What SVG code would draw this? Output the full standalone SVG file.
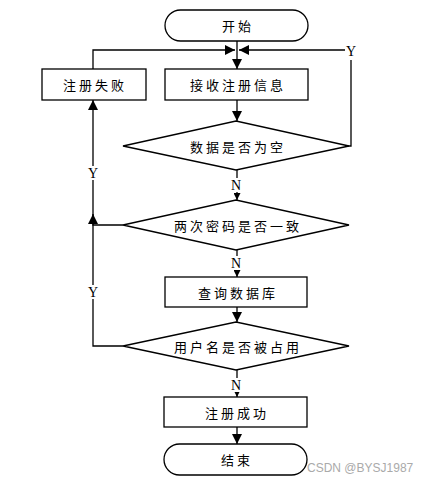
<svg xmlns="http://www.w3.org/2000/svg" width="436" height="483" viewBox="0 0 436 483">
<defs>
<marker id="ah" viewBox="0 0 10 10" refX="10" refY="5" markerWidth="10" markerHeight="10" markerUnits="userSpaceOnUse" orient="auto"><path d="M0,0 L10,5 L0,10 z" fill="#000"/></marker>
<marker id="as" viewBox="0 0 10 10" refX="10" refY="5" markerWidth="7" markerHeight="7" markerUnits="userSpaceOnUse" orient="auto"><path d="M0,0 L10,5 L0,10 z" fill="#000"/></marker>
</defs>
<style>
.s{fill:#fff;stroke:#000;stroke-width:1.3}
.t{font-family:"Noto Sans CJK SC","Liberation Sans",sans-serif;font-size:13px;letter-spacing:3px;text-anchor:middle;dominant-baseline:central;fill:#000}
.l{font-family:"Liberation Serif",serif;font-size:14px;text-anchor:middle;dominant-baseline:central;fill:#000}
.c{fill:none;stroke:#000;stroke-width:1.3}
</style>
<rect width="436" height="483" fill="#fff"/>
<g id="connectors">
<path class="c" d="M237,41 V69" marker-end="url(#ah)"/>
<path class="c" d="M93,69 V50 H235" marker-end="url(#ah)"/>
<path class="c" d="M348,146 H351 V50 H239" marker-end="url(#ah)"/>
<path class="c" d="M237,100 V121" marker-end="url(#ah)"/>
<path class="c" d="M237,170 V200" marker-end="url(#as)"/>
<path class="c" d="M123,225 H93 V100" marker-end="url(#ah)"/>
<path class="c" d="M123,346 H93 V214" marker-end="url(#ah)"/>
<path class="c" d="M237,250 V277" marker-end="url(#as)"/>
<path class="c" d="M237,307 V322" marker-end="url(#ah)"/>
<path class="c" d="M237,370 V397" marker-end="url(#as)"/>
<path class="c" d="M237,427 V444" marker-end="url(#ah)"/>
<rect x="229" y="178" width="16" height="14" fill="#fff"/>
<rect x="229" y="256" width="16" height="14" fill="#fff"/>
<rect x="229" y="378" width="16" height="14" fill="#fff"/>
<rect x="86" y="166" width="14" height="14" fill="#fff"/>
<rect x="86" y="285" width="14" height="14" fill="#fff"/>
<rect x="345" y="43" width="14" height="17" fill="#fff"/>
<text class="l" x="236" y="185">N</text>
<text class="l" x="236" y="263">N</text>
<text class="l" x="236" y="385">N</text>
<text class="l" x="93" y="173">Y</text>
<text class="l" x="93" y="292">Y</text>
<text class="l" x="351" y="51">Y</text>
</g>
<g id="start"><rect class="s" x="165" y="10" width="143" height="31" rx="15.5"/><text class="t" x="238" y="25.5">开始</text></g>
<g id="fail"><rect class="s" x="42" y="69" width="104" height="31"/><text class="t" x="95" y="84.5">注册失败</text></g>
<g id="recv"><rect class="s" x="165" y="69" width="143" height="31"/><text class="t" x="238" y="84.5">接收注册信息</text></g>
<g id="empty"><polygon class="s" points="123,146 236,121 349,146 236,170"/><text class="t" x="238" y="146">数据是否为空</text></g>
<g id="pwd"><polygon class="s" points="123,225 236,200 349,225 236,250"/><text class="t" x="238" y="225">两次密码是否一致</text></g>
<g id="query"><rect class="s" x="165" y="277" width="142" height="30"/><text class="t" x="238" y="292">查询数据库</text></g>
<g id="used"><polygon class="s" points="123,346 236,322 349,346 236,370"/><text class="t" x="238" y="346">用户名是否被占用</text></g>
<g id="ok"><rect class="s" x="164" y="397" width="143" height="30"/><text class="t" x="237" y="412">注册成功</text></g>
<g id="end"><rect class="s" x="164" y="444" width="143" height="31" rx="15.5"/><text class="t" x="237" y="459.5">结束</text></g>
<text x="307" y="472" font-family="Liberation Sans,sans-serif" font-size="12" fill="#aaa">CSDN @BYSJ1987</text>
</svg>
